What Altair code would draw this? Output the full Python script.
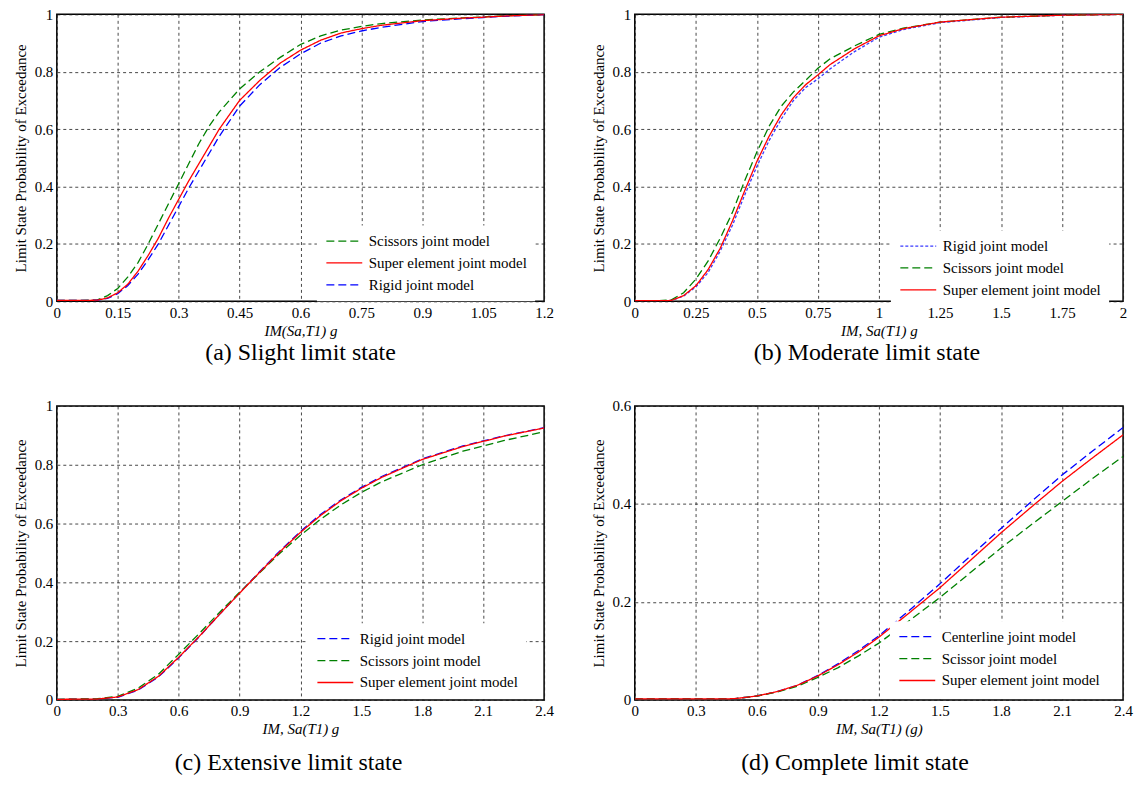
import altair as alt
import pandas as pd

FONT = "Liberation Serif"
YTITLE = "Limit State Probability of Exceedance"

# ---------------- (a) Slight limit state ----------------
a_x = [0, 0.05, 0.1, 0.125, 0.15, 0.175, 0.2, 0.225, 0.25, 0.275, 0.3, 0.325, 0.35, 0.375,
       0.4, 0.45, 0.5, 0.55, 0.6, 0.65, 0.7, 0.75, 0.8, 0.9, 1.0, 1.05, 1.1, 1.2]
a_scissors = [0.003, 0.003, 0.005, 0.02, 0.045, 0.085, 0.135, 0.20, 0.27, 0.34, 0.41, 0.48, 0.55, 0.61,
              0.66, 0.74, 0.80, 0.85, 0.895, 0.925, 0.945, 0.958, 0.968, 0.98, 0.988, 0.991, 0.995, 0.999]
a_super = [0.003, 0.003, 0.004, 0.012, 0.03, 0.06, 0.105, 0.16, 0.22, 0.29, 0.355, 0.42, 0.48, 0.54,
           0.6, 0.70, 0.77, 0.83, 0.875, 0.91, 0.935, 0.950, 0.962, 0.978, 0.987, 0.99, 0.994, 0.999]
a_rigid = [0.003, 0.003, 0.004, 0.01, 0.027, 0.055, 0.095, 0.145, 0.2, 0.265, 0.33, 0.395, 0.455, 0.515,
           0.575, 0.68, 0.755, 0.815, 0.862, 0.9, 0.925, 0.942, 0.955, 0.975, 0.985, 0.989, 0.993, 0.999]
a_xticks = [0, 0.15, 0.3, 0.45, 0.6, 0.75, 0.9, 1.05, 1.2]

# ---------------- (b) Moderate limit state ----------------
b_x = [0, 0.1, 0.15, 0.2, 0.25, 0.3, 0.35, 0.4, 0.45, 0.5, 0.55, 0.6, 0.65, 0.7, 0.75, 0.8,
       0.9, 1.0, 1.1, 1.25, 1.5, 1.75, 2.0]
b_rigid = [0.002, 0.002, 0.003, 0.018, 0.05, 0.1, 0.175, 0.265, 0.37, 0.47, 0.56, 0.635, 0.70, 0.745,
           0.775, 0.81, 0.87, 0.92, 0.947, 0.971, 0.989, 0.997, 1.0]
b_scissors = [0.002, 0.002, 0.005, 0.03, 0.077, 0.14, 0.22, 0.31, 0.42, 0.52, 0.61, 0.68, 0.73, 0.77,
              0.812, 0.845, 0.89, 0.93, 0.952, 0.973, 0.99, 0.997, 1.0]
b_super = [0.002, 0.002, 0.003, 0.02, 0.054, 0.11, 0.185, 0.28, 0.385, 0.487, 0.575, 0.65, 0.71, 0.755,
           0.789, 0.825, 0.88, 0.925, 0.95, 0.973, 0.99, 0.997, 1.0]
b_xticks = [0, 0.25, 0.5, 0.75, 1, 1.25, 1.5, 1.75, 2]

# ---------------- (c) Extensive limit state ----------------
c_x = [0, 0.2, 0.3, 0.4, 0.5, 0.6, 0.7, 0.8, 0.9, 1.0, 1.1, 1.2, 1.3, 1.4, 1.5, 1.6, 1.8, 2.0, 2.2, 2.4]
c_rigid = [0.002, 0.003, 0.009, 0.033, 0.078, 0.143, 0.214, 0.29, 0.364, 0.437, 0.508, 0.573, 0.632,
           0.681, 0.723, 0.76, 0.82, 0.864, 0.898, 0.926]
c_scissors = [0.002, 0.004, 0.012, 0.04, 0.087, 0.155, 0.225, 0.297, 0.366, 0.433, 0.5, 0.56, 0.615,
              0.664, 0.706, 0.742, 0.80, 0.846, 0.882, 0.912]
c_super = [0.002, 0.003, 0.01, 0.035, 0.08, 0.145, 0.215, 0.29, 0.363, 0.435, 0.505, 0.57, 0.628,
           0.678, 0.72, 0.757, 0.818, 0.862, 0.897, 0.925]
c_xticks = [0, 0.3, 0.6, 0.9, 1.2, 1.5, 1.8, 2.1, 2.4]

# ---------------- (d) Complete limit state ----------------
d_x = [0, 0.3, 0.45, 0.5, 0.6, 0.7, 0.8, 0.9, 1.0, 1.1, 1.2, 1.35, 1.5, 1.65, 1.8, 1.95, 2.1, 2.25, 2.4]
d_centerline = [0.002, 0.002, 0.002, 0.003, 0.008, 0.017, 0.03, 0.05, 0.074, 0.101, 0.131, 0.183,
                0.237, 0.294, 0.35, 0.405, 0.459, 0.508, 0.556]
d_scissor = [0.002, 0.002, 0.002, 0.003, 0.008, 0.016, 0.028, 0.046, 0.066, 0.09, 0.116, 0.162,
             0.209, 0.26, 0.31, 0.358, 0.405, 0.452, 0.497]
d_super = [0.002, 0.002, 0.002, 0.003, 0.008, 0.017, 0.03, 0.049, 0.072, 0.098, 0.128, 0.178,
           0.229, 0.285, 0.341, 0.394, 0.446, 0.494, 0.541]
d_xticks = [0, 0.3, 0.6, 0.9, 1.2, 1.5, 1.8, 2.1, 2.4]

y_ticks_1 = [0, 0.2, 0.4, 0.6, 0.8, 1]
y_ticks_06 = [0, 0.2, 0.4, 0.6]

BLUE, GREEN, RED = "#0000FF", "#008000", "#FF0000"
DASH_LONG, DASH_SOLID, DASH_SHORT = [8, 4], [1, 0], [3, 2]


def panel(x, series, legend_order, colors, dashes, xdomain, xticks, ydomain, yticks,
          xtitle, caption, w, h, cap_offset, cap_dx, leg_x, leg_y):
    rows = []
    for name, ys in series:
        for xi, yi in zip(x, ys):
            rows.append({"x": xi, "y": yi, "series": name})
    df = pd.DataFrame(rows)
    leg = alt.Legend(title=None, orient="none", legendX=leg_x, legendY=leg_y,
                     fillColor="white", padding=8,
                     symbolType="M-1,0H5", symbolSize=144, symbolStrokeWidth=1.3,
                     labelFont=FONT, labelFontSize=15, labelColor="black", labelOffset=29,
                     labelLimit=400, rowPadding=6)
    xaxis = alt.Axis(values=xticks, labelExpr="'' + datum.value", title=xtitle, titleFont=FONT,
                     titleFontStyle="italic", titleFontWeight="normal", titleFontSize=15,
                     titleColor="black", labelFont=FONT, labelFontSize=15, labelColor="black",
                     labelPadding=4, titlePadding=3, ticks=False, domain=False, grid=True,
                     gridColor="#1a1a1a", gridDash=[3, 3], gridWidth=0.8, labelFlush=False,
                     labelOverlap=False)
    yaxis = alt.Axis(values=yticks, labelExpr="'' + datum.value", title=YTITLE, titleFont=FONT,
                     titleFontWeight="normal", titleFontSize=15, titleColor="black",
                     labelFont=FONT, labelFontSize=15, labelColor="black", labelPadding=4,
                     titlePadding=6, ticks=False, domain=False, grid=True, gridColor="#1a1a1a",
                     gridDash=[3, 3], gridWidth=0.8, labelFlush=False, labelOverlap=False)
    return alt.Chart(df).mark_line(strokeWidth=1.3, clip=True).encode(
        x=alt.X("x:Q", scale=alt.Scale(domain=xdomain, nice=False, zero=False), axis=xaxis),
        y=alt.Y("y:Q", scale=alt.Scale(domain=ydomain, nice=False), axis=yaxis),
        color=alt.Color("series:N", scale=alt.Scale(domain=legend_order, range=colors), legend=leg),
        strokeDash=alt.StrokeDash("series:N", scale=alt.Scale(domain=legend_order, range=dashes),
                                  legend=leg),
    ).properties(
        width=w, height=h,
        title=alt.TitleParams(caption, orient="bottom", font=FONT, fontSize=24, fontWeight="normal",
                              color="black", offset=cap_offset, anchor="middle", frame="group",
                              dx=cap_dx),
    )


pa = panel(a_x,
           [("Scissors joint model", a_scissors), ("Rigid joint model", a_rigid),
            ("Super element joint model", a_super)],
           ["Scissors joint model", "Super element joint model", "Rigid joint model"],
           [GREEN, RED, BLUE], [DASH_LONG, DASH_SOLID, DASH_LONG],
           [0, 1.2], a_xticks, [0, 1], y_ticks_1, "IM(Sa,T1) g", "(a) Slight limit state",
           489, 288, 3, 0, 261, 212)

pb = panel(b_x,
           [("Rigid joint model", b_rigid), ("Scissors joint model", b_scissors),
            ("Super element joint model", b_super)],
           ["Rigid joint model", "Scissors joint model", "Super element joint model"],
           ["#3A3AFF", GREEN, RED], [DASH_SHORT, DASH_LONG, DASH_SOLID],
           [0, 2], b_xticks, [0, 1], y_ticks_1, "IM, Sa(T1) g", "(b) Moderate limit state",
           490, 288, 3, -12, 257, 217)

pc = panel(c_x,
           [("Rigid joint model", c_rigid), ("Scissors joint model", c_scissors),
            ("Super element joint model", c_super)],
           ["Rigid joint model", "Scissors joint model", "Super element joint model"],
           [BLUE, GREEN, RED], [DASH_LONG, DASH_LONG, DASH_SOLID],
           [0, 2.4], c_xticks, [0, 1], y_ticks_1, "IM, Sa(T1) g", "(c) Extensive limit state",
           489, 295, 14, -12, 252, 218)

pd_ = panel(d_x,
            [("Centerline joint model", d_centerline), ("Scissor joint model", d_scissor),
             ("Super element joint model", d_super)],
            ["Centerline joint model", "Scissor joint model", "Super element joint model"],
            [BLUE, GREEN, RED], [DASH_LONG, DASH_LONG, DASH_SOLID],
            [0, 2.4], d_xticks, [0, 0.6], y_ticks_06, "IM, Sa(T1) (g)", "(d) Complete limit state",
            490, 295, 14, -24, 256, 216)

chart = alt.concat(pa, pb, pc, pd_, columns=2, spacing={"row": 105, "column": 91},
                   bounds="flush", align="each").resolve_scale(
    color="independent", strokeDash="independent", x="independent", y="independent"
).resolve_legend(
    color="independent", strokeDash="independent"
).properties(
    padding={"left": 4, "top": -3, "right": 5, "bottom": 5},
    background="white",
).configure_view(stroke="black", strokeWidth=1.5)

chart.save("out.html", embed_options={"renderer": "svg", "actions": False})
